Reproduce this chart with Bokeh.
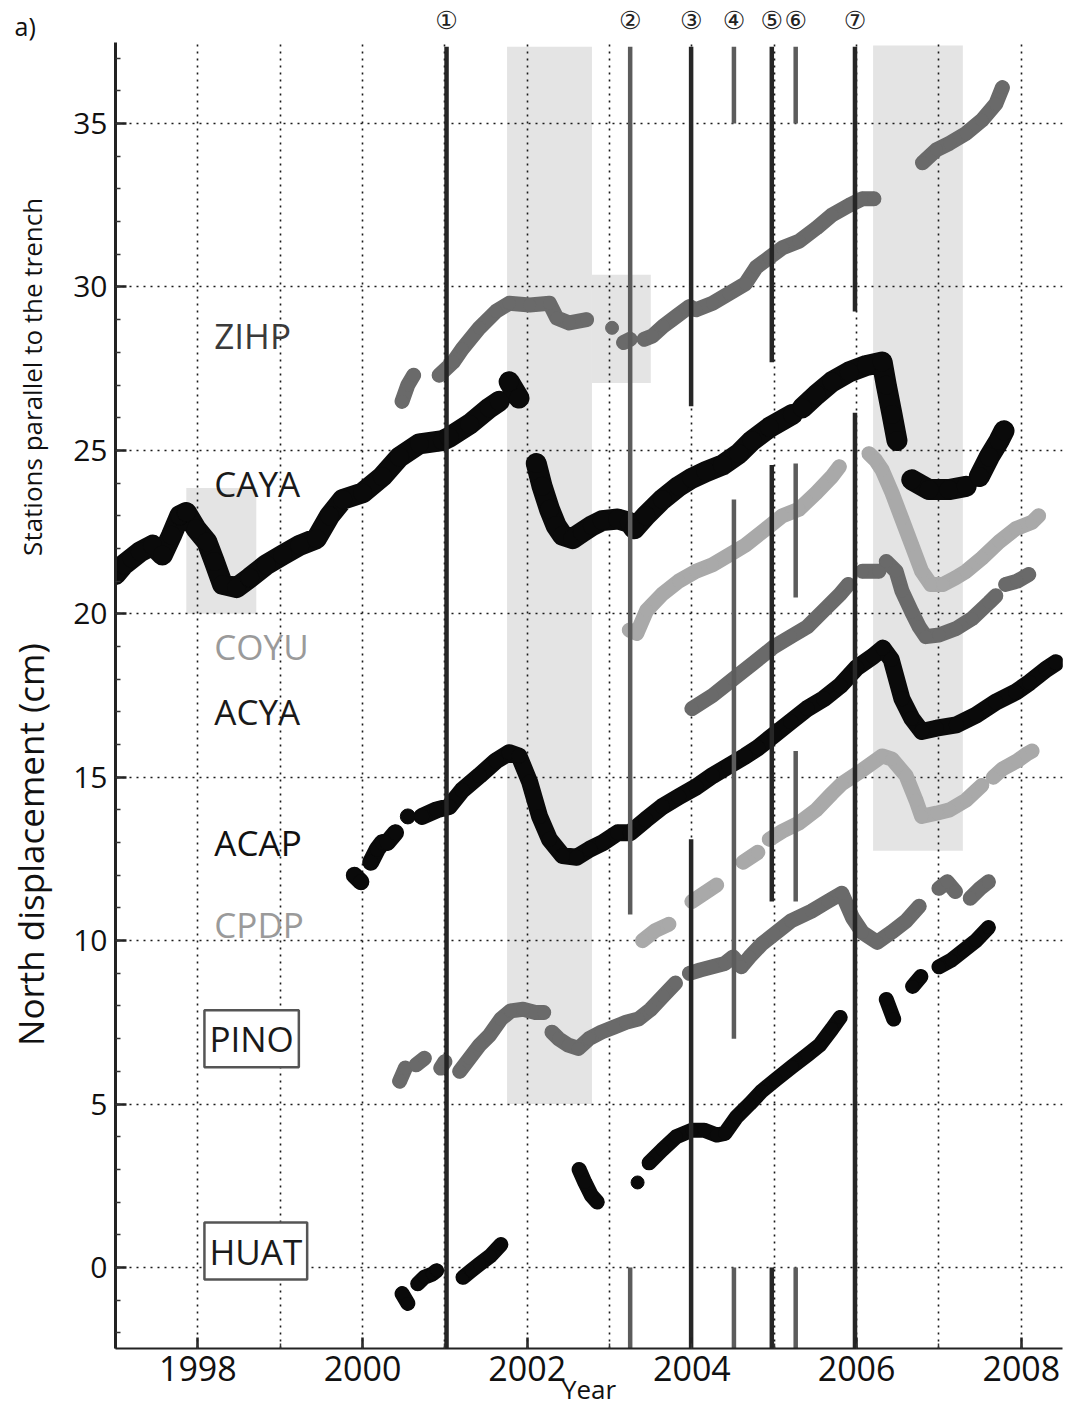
import math
from bokeh.plotting import figure
from bokeh.layouts import row
from bokeh.models import Range1d, FixedTicker, Label, LinearAxis, Title
from bokeh.embed import file_html
from bokeh.resources import INLINE

NAN = float("nan")

# ---------------- data (years, north displacement in cm; NaN = data gap) ----------------
ZIHP_T = [2000.48, 2000.55, 2000.62, NAN, 2000.93, 2001.1, 2001.21, 2001.42, 2001.62, 2001.78, 2002.03,
          2002.27, 2002.36, 2002.51, 2002.72, NAN, 2003.03, NAN, 2003.17, 2003.25, NAN, 2003.42, 2003.52,
          2003.65, 2003.81, 2003.97, 2004.05, 2004.25, 2004.45, 2004.65, 2004.78, 2004.94, 2005.1, 2005.3,
          2005.51, 2005.7, 2005.91, 2006.07, 2006.21, NAN, 2006.8, 2006.97, 2007.13, 2007.33, 2007.52,
          2007.69, 2007.77]
ZIHP_V = [26.5, 27.0, 27.3, NAN, 27.3, 27.7, 28.1, 28.75, 29.25, 29.5, 29.45,
          29.5, 29.05, 28.9, 29.0, NAN, 28.75, NAN, 28.3, 28.4, NAN, 28.4, 28.5,
          28.8, 29.1, 29.4, 29.3, 29.5, 29.8, 30.1, 30.6, 30.9, 31.2, 31.4,
          31.8, 32.2, 32.5, 32.7, 32.7, NAN, 33.8, 34.2, 34.4, 34.7, 35.1,
          35.6, 36.1]

CAYA_T = [1997.0, 1997.1, 1997.2, 1997.3, 1997.45, 1997.57, 1997.68, 1997.78, 1997.86, 1997.98, 1998.11,
          1998.2, 1998.3, 1998.47, 1998.63, 1998.83, 1999.03, 1999.24, 1999.44, 1999.6, 1999.76, 2000.0,
          2000.24, 2000.45, 2000.69, 2000.97, 2001.05, 2001.3, 2001.54, 2001.66, NAN, 2001.78, 2001.9, NAN,
          2002.11, 2002.18, 2002.27, 2002.35, 2002.43, 2002.55, 2002.67, 2002.79, 2002.91, 2003.1, 2003.24,
          2003.3, 2003.44, 2003.64, 2003.84, 2004.0, 2004.17, 2004.37, 2004.57, 2004.73, 2004.94, 2005.22,
          NAN, 2005.34, 2005.51, 2005.7, 2005.91, 2006.12, 2006.31, 2006.36, 2006.43, 2006.49, NAN,
          2006.67, 2006.88, 2007.12, 2007.33, NAN, 2007.49, 2007.61, 2007.73, 2007.79]
CAYA_V = [21.2, 21.5, 21.7, 21.9, 22.1, 21.8, 22.4, 23.0, 23.1, 22.6, 22.2,
          21.6, 20.9, 20.8, 21.1, 21.5, 21.8, 22.1, 22.3, 23.0, 23.5, 23.7,
          24.2, 24.8, 25.2, 25.3, 25.4, 25.8, 26.3, 26.5, NAN, 27.1, 26.6, NAN,
          24.6, 23.9, 23.2, 22.7, 22.4, 22.3, 22.5, 22.7, 22.85, 22.9, 22.8,
          22.6, 23.0, 23.5, 23.9, 24.15, 24.35, 24.55, 24.9, 25.3, 25.7, 26.1,
          NAN, 26.3, 26.7, 27.1, 27.4, 27.6, 27.7, 27.0, 26.1, 25.3, NAN,
          24.1, 23.8, 23.8, 23.9, NAN, 24.2, 24.8, 25.3, 25.6]

COYU_T = [2003.24, 2003.33, 2003.45, 2003.64, 2003.84, 2004.05, 2004.25, 2004.45, 2004.65, 2004.9, 2005.1,
          2005.3, 2005.51, 2005.7, 2005.79, NAN, 2006.15, 2006.23, 2006.31, 2006.43, 2006.55, 2006.67,
          2006.79, 2006.9, 2007.05, 2007.2, 2007.33, 2007.52, 2007.73, 2007.93, 2008.13, 2008.21]
COYU_V = [19.5, 19.4, 20.1, 20.6, 21.0, 21.3, 21.5, 21.8, 22.1, 22.6, 23.0,
          23.2, 23.7, 24.2, 24.5, NAN, 24.9, 24.7, 24.4, 23.7, 22.9, 22.1,
          21.3, 20.9, 20.9, 21.1, 21.3, 21.7, 22.2, 22.6, 22.8, 23.0]

ACYA_T = [2004.0, 2004.25, 2004.5, 2004.75, 2005.0, 2005.2, 2005.4, 2005.6, 2005.8, 2005.9, NAN,
          2006.07, 2006.27, NAN, 2006.36, 2006.48, 2006.55, 2006.67, 2006.76, 2006.84, 2007.0, 2007.21,
          2007.4, 2007.61, 2007.69, NAN, 2007.81, 2007.95, 2008.09]
ACYA_V = [17.1, 17.5, 18.0, 18.5, 19.0, 19.3, 19.6, 20.1, 20.6, 20.9, NAN,
          21.3, 21.3, NAN, 21.6, 21.3, 20.7, 20.05, 19.6, 19.3, 19.35, 19.55,
          19.85, 20.35, 20.55, NAN, 20.9, 21.0, 21.2]

ACAP_T = [1999.9, 1999.98, NAN, 2000.1, 2000.18, 2000.24, NAN, 2000.3, 2000.4, NAN, 2000.55, NAN,
          2000.72, 2000.9, 2001.05, 2001.21, 2001.42, 2001.62, 2001.78, 2001.9, 2002.03, 2002.15, 2002.27,
          2002.43, 2002.6, 2002.76, 2002.92, 2003.1, 2003.25, 2003.44, 2003.64, 2003.84, 2004.05, 2004.25,
          2004.45, 2004.65, 2004.8, 2005.0, 2005.2, 2005.4, 2005.6, 2005.8, 2006.0, 2006.2, 2006.32,
          2006.42, 2006.55, 2006.67, 2006.79, 2006.97, 2007.21, 2007.45, 2007.69, 2007.93, 2008.1,
          2008.3, 2008.42]
ACAP_V = [12.0, 11.8, NAN, 12.4, 12.8, 13.0, NAN, 13.0, 13.3, NAN, 13.8, NAN,
          13.8, 14.0, 14.1, 14.6, 15.05, 15.5, 15.75, 15.65, 14.85, 13.8, 13.1,
          12.6, 12.55, 12.8, 13.0, 13.3, 13.3, 13.7, 14.1, 14.4, 14.7, 15.05,
          15.35, 15.65, 15.9, 16.3, 16.7, 17.1, 17.4, 17.8, 18.35, 18.7, 18.95,
          18.6, 17.4, 16.8, 16.4, 16.5, 16.6, 16.9, 17.3, 17.6, 17.9,
          18.3, 18.5]

CPDP_T = [2003.4, 2003.55, 2003.72, NAN, 2004.0, 2004.15, 2004.3, NAN, 2004.62, 2004.8, NAN,
          2004.94, 2005.1, 2005.3, 2005.51, 2005.7, 2005.82, 2006.03, 2006.31, 2006.43, 2006.6, 2006.72,
          2006.79, 2006.97, 2007.13, 2007.33, 2007.52, NAN, 2007.66, 2007.77, 2007.95, 2008.06, 2008.13]
CPDP_V = [10.0, 10.3, 10.5, NAN, 11.2, 11.45, 11.7, NAN, 12.4, 12.7, NAN,
          13.1, 13.35, 13.6, 14.0, 14.5, 14.8, 15.15, 15.65, 15.55, 15.05, 14.3,
          13.8, 13.9, 14.0, 14.3, 14.75, NAN, 15.0, 15.25, 15.5, 15.7, 15.8]

PINO_T = [2000.45, 2000.52, NAN, 2000.65, 2000.75, NAN, 2000.95, 2001.0, NAN, 2001.18, 2001.3,
          2001.42, 2001.54, 2001.68, 2001.8, 2001.95, 2002.1, 2002.2, NAN, 2002.3, 2002.38, 2002.5,
          2002.62, 2002.75, 2002.9, 2003.05, 2003.2, 2003.35, 2003.5, 2003.65, 2003.8, NAN, 2003.97,
          2004.1, 2004.25, 2004.4, 2004.5, 2004.6, 2004.7, 2004.85, 2005.0, 2005.2, 2005.45, 2005.65,
          2005.82, 2005.95, 2006.07, 2006.25, 2006.42, 2006.6, 2006.76, NAN, 2007.0, 2007.1, 2007.2, NAN,
          2007.38, 2007.5, 2007.6]
PINO_V = [5.7, 6.1, NAN, 6.2, 6.4, NAN, 6.1, 6.3, NAN, 6.0, 6.4,
          6.8, 7.1, 7.6, 7.85, 7.9, 7.8, 7.8, NAN, 7.2, 7.0, 6.8,
          6.7, 7.0, 7.2, 7.35, 7.5, 7.6, 7.9, 8.3, 8.7, NAN, 9.0,
          9.1, 9.2, 9.3, 9.5, 9.2, 9.5, 9.9, 10.2, 10.6, 10.9, 11.2,
          11.45, 10.7, 10.25, 9.95, 10.25, 10.6, 11.05, NAN, 11.6, 11.8, 11.5, NAN,
          11.3, 11.6, 11.8]

HUAT_T = [2000.48, 2000.55, NAN, 2000.67, 2000.75, 2000.85, 2000.9, NAN, 2001.22, 2001.32, 2001.42,
          2001.55, 2001.68, NAN, 2002.63, 2002.7, 2002.78, 2002.85, NAN, 2003.34, NAN, 2003.48, 2003.64,
          2003.81, 2004.0, 2004.15, 2004.3, 2004.4, 2004.54, 2004.7, 2004.85, 2005.02, 2005.22, 2005.4,
          2005.55, 2005.7, 2005.8, NAN, 2006.36, 2006.45, NAN, 2006.68, 2006.78, NAN, 2007.0, 2007.15,
          2007.3, 2007.45, 2007.6]
HUAT_V = [-0.8, -1.1, NAN, -0.5, -0.3, -0.2, -0.1, NAN, -0.3, -0.1, 0.1,
          0.35, 0.7, NAN, 3.0, 2.6, 2.2, 2.0, NAN, 2.6, NAN, 3.2, 3.6,
          4.0, 4.2, 4.2, 4.05, 4.1, 4.6, 5.0, 5.4, 5.75, 6.15, 6.5,
          6.8, 7.3, 7.65, NAN, 8.2, 7.6, NAN, 8.6, 8.9, NAN, 9.2, 9.4,
          9.7, 10.0, 10.4]

# shaded periods (slow slip events)
SHADE_LEFT = [1997.86, 2001.755, 2002.786, 2006.20]
SHADE_RIGHT = [1998.71, 2002.786, 2003.50, 2007.29]
SHADE_BOTTOM = [20.0, 5.0, 27.06, 12.75]
SHADE_TOP = [23.85, 37.35, 30.37, 37.39]

# earthquakes (numbered vertical markers) and the visible pieces of each marker line
EVENT_YEARS = [2001.02, 2003.25, 2003.99, 2004.51, 2004.97, 2005.26, 2005.98]
EVENT_NAMES = ["①", "②", "③", "④", "⑤", "⑥", "⑦"]
EVENT_PIECES = [
    [(-2.48, 37.35)],
    [(10.8, 37.35), (-2.48, 0.0)],
    [(26.35, 37.35), (-2.48, 13.1)],
    [(35.0, 37.35), (7.0, 23.5), (-2.48, 0.0)],
    [(27.7, 37.35), (11.2, 24.55), (-2.48, 0.0)],
    [(35.0, 37.35), (20.5, 24.6), (11.2, 15.8), (-2.48, 0.0)],
    [(29.25, 37.35), (-2.48, 26.15)],
]

YEAR_TICKS = [1998, 2000, 2002, 2004, 2006, 2008]
Y_TICKS = [0, 5, 10, 15, 20, 25, 30, 35]

STATION_NAMES = ["ZIHP", "CAYA", "COYU", "ACYA", "ACAP", "CPDP", "PINO", "HUAT"]
STATION_LABEL_Y = [28.5, 24.0, 19.0, 17.0, 13.0, 10.5, 7.0, 0.5]

X0, X1 = 1997.0, 2008.5
Y0, Y1 = -2.48, 37.48
TOP, BOTTOM, LEFT_STRIP = 42, 64, 56

# ---------------- main figure ----------------
yr = Range1d(Y0, Y1)
p = figure(width=1067 - LEFT_STRIP, height=1412, output_backend="svg", toolbar_location=None,
           x_range=Range1d(X0, X1), y_range=yr,
           min_border_left=115 - LEFT_STRIP, min_border_right=5, min_border_top=TOP,
           min_border_bottom=BOTTOM, background_fill_color="white", border_fill_color="white")
p.outline_line_color = None

# shading below grid
p.quad(left=SHADE_LEFT, right=SHADE_RIGHT, bottom=SHADE_BOTTOM, top=SHADE_TOP,
       fill_color="#e4e4e4", line_color=None, level="image")

# grid
p.xgrid.ticker = FixedTicker(ticks=list(range(1998, 2009)))
p.ygrid.ticker = FixedTicker(ticks=Y_TICKS)
for g in (p.xgrid, p.ygrid):
    g.grid_line_color = "#1a1a1a"
    g.grid_line_dash = "2 5"
    g.grid_line_width = 1.6

# axes
p.xaxis.ticker = FixedTicker(ticks=YEAR_TICKS, minor_ticks=list(range(1997, 2009)))
p.yaxis.ticker = FixedTicker(ticks=Y_TICKS, minor_ticks=list(range(-2, 38)))
for ax in (p.xaxis, p.yaxis):
    ax.major_tick_in = 11
    ax.major_tick_out = 0
    ax.minor_tick_in = 5
    ax.minor_tick_out = 0
    ax.major_tick_line_width = 2.5
    ax.minor_tick_line_width = 1.5
    ax.major_tick_line_color = "#222222"
    ax.minor_tick_line_color = "#333333"
    ax.axis_line_color = "#222222"
    ax.major_label_text_font = "Open Sans"
    ax.major_label_text_color = "#111111"
p.xaxis.major_label_text_font_size = "34px"
p.yaxis.major_label_text_font_size = "30px"
p.yaxis.axis_line_width = 3
p.xaxis.axis_line_width = 2
p.xaxis.major_label_standoff = 7
p.yaxis.major_label_standoff = 8
p.xaxis.axis_label = "Year"
p.xaxis.axis_label_text_font = "Open Sans"
p.xaxis.axis_label_text_font_size = "26px"
p.xaxis.axis_label_text_font_style = "normal"
p.xaxis.axis_label_text_color = "#111111"
p.xaxis.axis_label_standoff = -13

# numbered earthquake labels on a top axis (positions in hundredths of a year)
p.extra_x_ranges = {"ev": Range1d(X0 * 100, X1 * 100)}
ev_ticks = [int(round(y * 100)) for y in EVENT_YEARS]
top_ax = LinearAxis(x_range_name="ev", ticker=FixedTicker(ticks=ev_ticks),
                    major_label_overrides={t: n for t, n in zip(ev_ticks, EVENT_NAMES)})
top_ax.axis_line_color = None
top_ax.major_tick_line_color = None
top_ax.minor_tick_line_color = None
top_ax.major_label_standoff = 2
top_ax.major_label_text_font = "DejaVu Sans"
top_ax.major_label_text_font_size = "25px"
top_ax.major_label_text_color = "#222222"
p.add_layout(top_ax, "above")

# series
DARK, BLACK, LIGHT = "#6a6a6a", "#0a0a0a", "#a9a9a9"
series = [
    (ZIHP_T, ZIHP_V, DARK, 15),
    (CAYA_T, CAYA_V, BLACK, 21),
    (COYU_T, COYU_V, LIGHT, 15),
    (ACYA_T, ACYA_V, DARK, 15),
    (ACAP_T, ACAP_V, BLACK, 17),
    (CPDP_T, CPDP_V, LIGHT, 15),
    (PINO_T, PINO_V, DARK, 15),
    (HUAT_T, HUAT_V, BLACK, 15),
]
for t, v, col, w in series:
    p.line(t, v, line_color=col, line_width=w, line_join="round", line_cap="round")
    p.scatter(t, v, marker="circle", size=w - 2, fill_color=col, line_color=col)

# event marker lines (drawn over the data)
for i, ey in enumerate(EVENT_YEARS):
    col = "#262626" if i % 2 == 0 else "#5c5c5c"
    y0s = [a for a, b in EVENT_PIECES[i]]
    y1s = [b for a, b in EVENT_PIECES[i]]
    p.segment(x0=[ey] * len(y0s), y0=y0s, x1=[ey] * len(y0s), y1=y1s,
              line_color=col, line_width=4.5)

# station labels
LABEL_COLORS = ["#3a3a3a", "#1a1a1a", "#9a9a9a", "#1a1a1a", "#111111", "#9a9a9a", "#1a1a1a", "#1a1a1a"]
for i, name in enumerate(STATION_NAMES):
    boxed = name in ("PINO", "HUAT")
    lab = Label(x=1998.2, y=STATION_LABEL_Y[i], text=name, text_font="Open Sans",
                text_font_size="35px", text_color=LABEL_COLORS[i], text_baseline="middle",
                text_align="left")
    if boxed:
        lab.border_line_color = "#555555"
        lab.border_line_width = 2.5
        lab.background_fill_color = "white"
        lab.padding = 5
        lab.x = 1998.08
    p.add_layout(lab)

# ---------------- left strip: rotated axis titles and panel letter ----------------
strip = figure(width=LEFT_STRIP, height=1412, output_backend="svg", toolbar_location=None,
               x_range=Range1d(0, LEFT_STRIP), y_range=yr,
               min_border_left=0, min_border_right=0, min_border_top=TOP, min_border_bottom=BOTTOM,
               x_axis_type=None, y_axis_type=None)
strip.outline_line_color = None
strip.grid.visible = False
strip.add_layout(Title(text="a)", align="left", offset=14, standoff=0, text_font="Open Sans",
                       text_font_size="25px", text_font_style="normal", text_color="#111111"), "above")
strip.add_layout(Label(x=31, y=27.25, text="Stations parallel to the trench", angle=math.pi / 2,
                       text_font="Open Sans", text_font_size="26px", text_align="center",
                       text_baseline="middle", text_color="#111111"))
strip.add_layout(Label(x=30, y=12.94, text="North displacement (cm)", angle=math.pi / 2,
                       text_font="Open Sans", text_font_size="35px", text_align="center",
                       text_baseline="middle", text_color="#111111"))

layout = row(strip, p)
open("out.html", "w").write(file_html(layout, INLINE))
